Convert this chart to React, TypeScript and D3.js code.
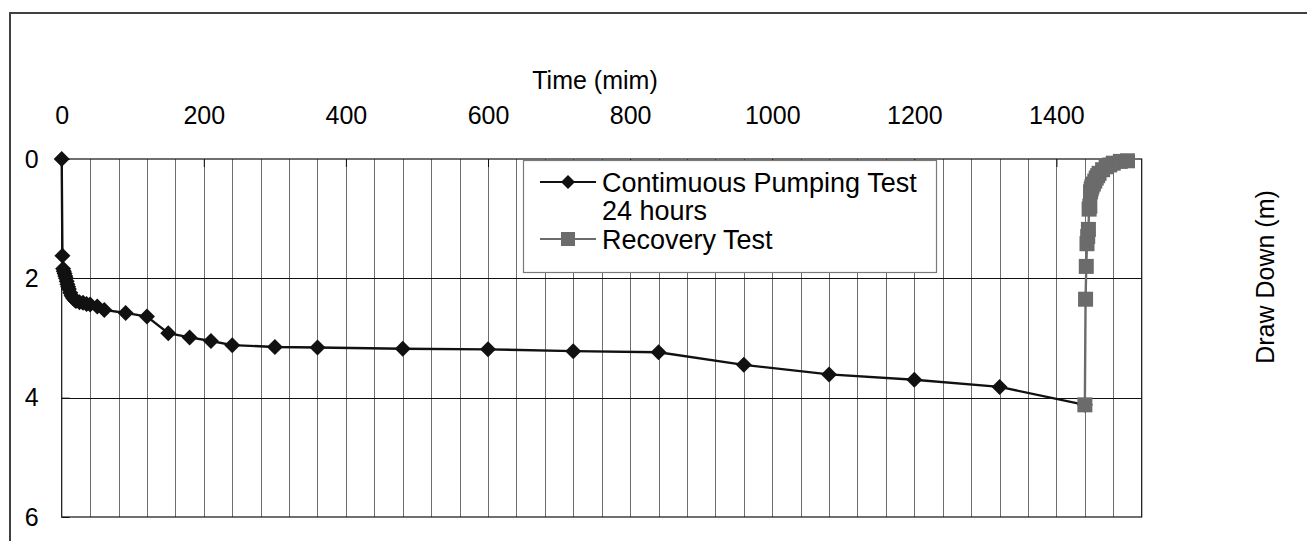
// @ts-nocheck
import React, { useEffect, useRef } from 'react';
import * as d3 from 'd3';

// pumping test, time in minutes, drawdown in metres
const pumpTime = [0, 1, 2, 3, 4, 5, 6, 7, 8, 9, 10, 12, 14, 16, 18, 20, 25, 30, 35, 40, 50, 60, 90, 120, 150, 180, 210, 240, 300, 360, 480, 600, 720, 840, 960, 1080, 1200, 1320, 1440];
const pumpDrawdown = [0, 1.62, 1.84, 1.88, 1.92, 1.96, 2.0, 2.05, 2.1, 2.14, 2.18, 2.24, 2.29, 2.33, 2.36, 2.38, 2.4, 2.41, 2.43, 2.44, 2.47, 2.53, 2.58, 2.64, 2.92, 2.99, 3.05, 3.12, 3.15, 3.16, 3.18, 3.19, 3.22, 3.24, 3.45, 3.61, 3.7, 3.82, 4.12];

const recoveryTime = [1440, 1441, 1442, 1443, 1444, 1445, 1446, 1447, 1448, 1449, 1450, 1452, 1454, 1456, 1458, 1460, 1465, 1470, 1475, 1480, 1490, 1500];
const recoveryDrawdown = [4.12, 2.35, 1.8, 1.42, 1.3, 1.18, 0.84, 0.79, 0.55, 0.5, 0.46, 0.42, 0.37, 0.32, 0.28, 0.24, 0.18, 0.13, 0.1, 0.07, 0.04, 0.03];

const xTicks = [0, 200, 400, 600, 800, 1000, 1200, 1400];
const yTicks = [0, 2, 4, 6];

const legendItems = [
  { lines: ['Contimuous Pumping Test', '24 hours'], kind: 'pump' },
  { lines: ['Recovery Test'], kind: 'recovery' },
];

const W = 1307;
const H = 541;
const FONT = '"Liberation Sans", Arial, sans-serif';

const diamond = (h) => `M0,${-h}L${h},0L0,${h}L${-h},0Z`;

const App = () => {
  const svgRef = useRef(null);

  useEffect(() => {
    const svg = d3.select(svgRef.current);
    svg.selectAll('*').remove();

    const left = 61.7, right = 1141.7, top = 159, bottom = 517;
    const x = d3.scaleLinear().domain([0, 1520]).range([left, right]);
    const y = d3.scaleLinear().domain([0, 6]).range([top, bottom]);

    // outer chart frame
    svg.append('rect')
      .attr('x', 10).attr('y', 13)
      .attr('width', 1310).attr('height', 560)
      .attr('fill', 'white')
      .attr('stroke', '#404040')
      .attr('stroke-width', 2);

    // grid
    const grid = svg.append('g');
    grid.selectAll('line.v')
      .data(d3.range(40, 1520, 40))
      .join('line')
      .attr('x1', d => Math.round(x(d)) + 0.5).attr('x2', d => Math.round(x(d)) + 0.5)
      .attr('y1', top).attr('y2', bottom)
      .attr('stroke', '#6e6e6e')
      .attr('stroke-width', 1);
    grid.selectAll('line.h')
      .data([2, 4])
      .join('line')
      .attr('x1', left).attr('x2', right)
      .attr('y1', d => Math.round(y(d)) + 0.5).attr('y2', d => Math.round(y(d)) + 0.5)
      .attr('stroke', '#111')
      .attr('stroke-width', 1);

    // plot border
    svg.append('rect')
      .attr('x', left).attr('y', top)
      .attr('width', right - left).attr('height', bottom - top)
      .attr('fill', 'none')
      .attr('stroke', '#111')
      .attr('stroke-width', 1.2);

    // axes
    const fmt = d3.format('d');
    const xAxis = svg.append('g')
      .attr('transform', `translate(0,${top})`)
      .call(d3.axisTop(x).tickValues(xTicks).tickFormat(fmt).tickSizeInner(-8).tickSizeOuter(0).tickPadding(35));
    const yAxis = svg.append('g')
      .attr('transform', `translate(${left},0)`)
      .call(d3.axisLeft(y).tickValues(yTicks).tickFormat(fmt).tickSizeInner(-8).tickSizeOuter(0).tickPadding(23));
    [xAxis, yAxis].forEach(a => {
      a.select('.domain').remove();
      a.selectAll('line').attr('stroke', '#111');
      a.selectAll('text')
        .attr('fill', '#000')
        .style('font-family', FONT)
        .style('font-size', '25px');
    });

    // axis titles
    svg.append('text')
      .attr('x', 595).attr('y', 89)
      .attr('text-anchor', 'middle')
      .attr('fill', '#000')
      .style('font-family', FONT).style('font-size', '25px')
      .text('Time (mim)');
    svg.append('text')
      .attr('transform', 'translate(1265,277) rotate(-90)')
      .attr('text-anchor', 'middle')
      .attr('dominant-baseline', 'central')
      .attr('fill', '#000')
      .style('font-family', FONT).style('font-size', '25px')
      .text('Draw Down (m)');

    const line = d3.line().x(d => x(d[0])).y(d => y(d[1]));

    // pumping series
    const pump = pumpTime.map((t, i) => [t, pumpDrawdown[i]]);
    svg.append('path')
      .attr('d', line(pump))
      .attr('fill', 'none')
      .attr('stroke', '#111')
      .attr('stroke-width', 2.4);
    svg.append('g').selectAll('path')
      .data(pump)
      .join('path')
      .attr('transform', d => `translate(${x(d[0])},${y(d[1])})`)
      .attr('d', diamond(8))
      .attr('fill', '#111');

    // recovery series
    const rec = recoveryTime.map((t, i) => [t, recoveryDrawdown[i]]);
    svg.append('path')
      .attr('d', line(rec))
      .attr('fill', 'none')
      .attr('stroke', '#6b6b6b')
      .attr('stroke-width', 2.4);
    svg.append('g').selectAll('rect')
      .data(rec)
      .join('rect')
      .attr('x', d => x(d[0]) - 7.5).attr('y', d => y(d[1]) - 7.5)
      .attr('width', 15).attr('height', 15)
      .attr('fill', '#6b6b6b');

    // legend
    const lg = svg.append('g');
    lg.append('rect')
      .attr('x', 523.5).attr('y', 160.5)
      .attr('width', 413).attr('height', 112)
      .attr('fill', 'white')
      .attr('stroke', '#7a7a7a')
      .attr('stroke-width', 1.2);
    const rowH = 28.5;
    let row = 0;
    legendItems.forEach(item => {
      const cy = 182 + row * rowH;
      const col = item.kind === 'pump' ? '#111' : '#6b6b6b';
      lg.append('line')
        .attr('x1', 540).attr('x2', 596)
        .attr('y1', cy).attr('y2', cy)
        .attr('stroke', col).attr('stroke-width', 2.2);
      if (item.kind === 'pump') {
        lg.append('path').attr('transform', `translate(568,${cy})`).attr('d', diamond(7)).attr('fill', col);
      } else {
        lg.append('rect').attr('x', 561).attr('y', cy - 7).attr('width', 14).attr('height', 14).attr('fill', col);
      }
      item.lines.forEach((txt, j) => {
        lg.append('text')
          .attr('x', 602).attr('y', cy + j * rowH)
          .attr('dy', '0.36em')
          .attr('fill', '#000')
          .style('font-family', FONT).style('font-size', '27px')
          .text(txt);
      });
      row += item.lines.length;
    });
  }, []);

  return (
    <svg ref={svgRef} width={W} height={H}
      style={{ position: 'absolute', left: 0, top: 0, background: 'white' }} />
  );
};

export default App;
